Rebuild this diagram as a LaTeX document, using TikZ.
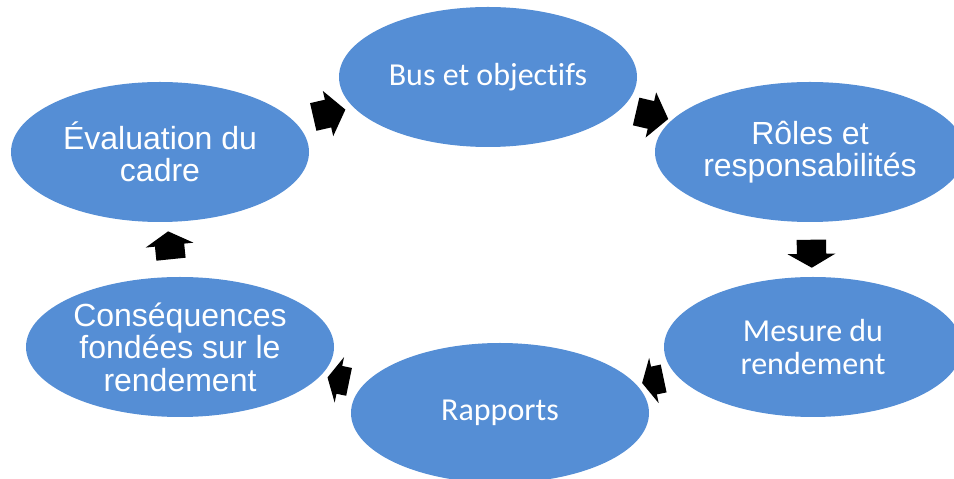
\documentclass[tikz,border=0pt]{standalone}
\usepackage{fontspec}
\newfontfamily\calibri[Ligatures=NoCommon]{Carlito}
\newfontfamily\arialfont{Liberation Sans}
\usetikzlibrary{shapes.geometric,shapes.arrows}
\definecolor{stageblue}{RGB}{85,142,213}
\tikzset{
  stage/.style={ellipse, fill=stageblue, minimum width=298pt, minimum height=140pt,
    inner sep=0pt, text=white, align=center, font=\calibri\fontsize{32}{32.5}\selectfont},
  arialtext/.style={font=\arialfont\fontsize{32}{32.5}\selectfont},
  turn/.style={single arrow, fill=black, inner xsep=0pt, inner ysep=14pt,
    minimum width=46pt, minimum height=33pt, single arrow head extend=9pt,
    single arrow tip angle=105, sloped, allow upside down},
  shortturn/.style={turn, minimum height=22pt, single arrow tip angle=125}
}
\begin{document}
\begin{tikzpicture}[x=1pt,y=1pt]
\useasboundingbox (0,0) rectangle (954,479);
\clip (0,0) rectangle (954,479);

% stages
\node[stage] (bus) at (488,402) {Bus et objectifs};
\node[stage, arialtext, minimum width=310pt] (roles) at (810,327) {Rôles et\\responsabilités};
\node[stage] (mesure) at (813,132) {Mesure du\\rendement};
\node[stage] (rapports) at (500,66) {Rapports};
\node[stage, arialtext, minimum width=308pt] (csq) at (180,132) {Conséquences\\fondées sur le\\rendement};
\node[stage, arialtext] (eval) at (160,327) {Évaluation du\\cadre};

% arrows between stages
\path (eval) -- node[turn] (a1) {} (bus);
\path (bus) -- node[turn] (a2) {} (roles);
\path (roles) -- node[turn, minimum width=48pt, minimum height=28pt, single arrow tip angle=120] (a3) {} (mesure);
\path (mesure) -- node[shortturn] (a4) {} (rapports);
\path (rapports) -- node[shortturn] (a5) {} (csq);
\path (csq) -- node[turn, minimum width=48pt, minimum height=28pt, single arrow tip angle=120] (a6) {} (eval);
\end{tikzpicture}
\end{document}
